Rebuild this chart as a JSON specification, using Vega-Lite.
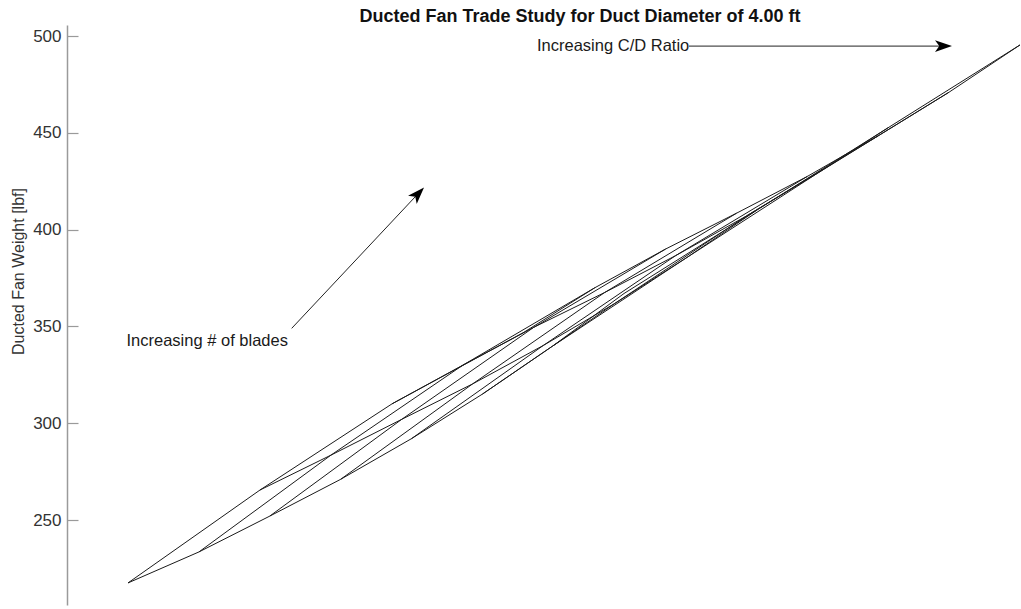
{
  "$schema": "https://vega.github.io/schema/vega-lite/v6.json",
  "width": 954,
  "height": 580,
  "autosize": {"type": "none"},
  "padding": {"left": 67, "top": 25, "right": 0, "bottom": 4},
  "background": "white",
  "config": {"view": {"stroke": null}, "font": "Liberation Sans"},
  "title": {
    "text": "Ducted Fan Trade Study for Duct Diameter of 4.00 ft",
    "font": "Liberation Sans",
    "fontSize": 18,
    "fontWeight": "bold",
    "color": "#111111",
    "anchor": "middle",
    "dx": 36,
    "dy": 3,
    "offset": 2
  },
  "datasets": {
    "carpet": [
      {"blades": 2, "cd_step": 0, "cheater": 128, "weight": 217.5},
      {"blades": 2, "cd_step": 1, "cheater": 198.9, "weight": 233.5},
      {"blades": 2, "cd_step": 2, "cheater": 269.7, "weight": 252},
      {"blades": 2, "cd_step": 3, "cheater": 340.6, "weight": 271},
      {"blades": 2, "cd_step": 4, "cheater": 411.4, "weight": 292},
      {"blades": 2, "cd_step": 5, "cheater": 482.3, "weight": 315},
      {"blades": 2, "cd_step": 6, "cheater": 553.1, "weight": 340},
      {"blades": 2, "cd_step": 7, "cheater": 624, "weight": 367},
      {"blades": 3, "cd_step": 0, "cheater": 260, "weight": 265.5},
      {"blades": 3, "cd_step": 1, "cheater": 330.9, "weight": 283.5},
      {"blades": 3, "cd_step": 2, "cheater": 401.7, "weight": 302},
      {"blades": 3, "cd_step": 3, "cheater": 472.6, "weight": 320.3},
      {"blades": 3, "cd_step": 4, "cheater": 543.4, "weight": 340.2},
      {"blades": 3, "cd_step": 5, "cheater": 614.3, "weight": 361.7},
      {"blades": 3, "cd_step": 6, "cheater": 685.1, "weight": 385},
      {"blades": 3, "cd_step": 7, "cheater": 756, "weight": 409.8},
      {"blades": 4, "cd_step": 0, "cheater": 392, "weight": 310},
      {"blades": 4, "cd_step": 1, "cheater": 462.9, "weight": 330},
      {"blades": 4, "cd_step": 2, "cheater": 533.7, "weight": 349.5},
      {"blades": 4, "cd_step": 3, "cheater": 604.6, "weight": 367.5},
      {"blades": 4, "cd_step": 4, "cheater": 675.4, "weight": 386.5},
      {"blades": 4, "cd_step": 5, "cheater": 746.3, "weight": 407},
      {"blades": 4, "cd_step": 6, "cheater": 817.1, "weight": 429},
      {"blades": 4, "cd_step": 7, "cheater": 888, "weight": 452.6},
      {"blades": 5, "cd_step": 0, "cheater": 524, "weight": 347},
      {"blades": 5, "cd_step": 1, "cheater": 594.9, "weight": 370},
      {"blades": 5, "cd_step": 2, "cheater": 665.7, "weight": 390},
      {"blades": 5, "cd_step": 3, "cheater": 736.6, "weight": 408.5},
      {"blades": 5, "cd_step": 4, "cheater": 807.4, "weight": 427.5},
      {"blades": 5, "cd_step": 5, "cheater": 878.3, "weight": 448.5},
      {"blades": 5, "cd_step": 6, "cheater": 949.1, "weight": 471},
      {"blades": 5, "cd_step": 7, "cheater": 1020, "weight": 495.4}
    ],
    "arrows": [
      {"name": "blades", "x0": 291.7, "y0": 349.0, "x1": 418.2, "y1": 418.6},
      {"name": "cd", "x0": 689, "y0": 494.8, "x1": 943.5, "y1": 494.8}
    ],
    "notes": [
      {"label": "Increasing # of blades", "x": 126.5, "y": 342.5},
      {"label": "Increasing C/D Ratio", "x": 537, "y": 494.8}
    ]
  },
  "resolve": {"axis": {"y": "independent"}},
  "layer": [
    {
      "data": {"name": "carpet"},
      "mark": {"type": "line", "stroke": "#1a1a1a", "strokeWidth": 1},
      "encoding": {
        "x": {"field": "cheater", "type": "quantitative", "scale": {"domain": [67, 1021], "nice": false, "zero": false}, "axis": null},
        "y": {
          "field": "weight",
          "type": "quantitative",
          "scale": {"domain": [206.1, 505.7], "nice": false, "zero": false},
          "axis": {
            "title": "Ducted Fan Weight [lbf]",
            "values": [250, 300, 350, 400, 450, 500],
            "grid": false,
            "ticks": false,
            "domainColor": "#9a9a9a",
            "domainWidth": 1.5,
            "labelPadding": 6,
            "labelFont": "Liberation Sans",
            "labelFontSize": 17,
            "labelColor": "#333333",
            "titleFont": "Liberation Sans",
            "titleFontSize": 16,
            "titleFontWeight": "normal",
            "titleColor": "#333333",
            "titleAngle": -90,
            "titleAlign": "center",
            "titleBaseline": "middle",
            "titleX": -49,
            "titleY": 246
          }
        },
        "detail": {"field": "blades"},
        "order": {"field": "cd_step"}
      }
    },
    {
      "data": {"name": "carpet"},
      "mark": {"type": "line", "stroke": "#1a1a1a", "strokeWidth": 1},
      "encoding": {
        "x": {"field": "cheater", "type": "quantitative", "axis": null},
        "y": {
          "field": "weight",
          "type": "quantitative",
          "axis": {
            "orient": "right",
            "offset": -954,
            "values": [250, 300, 350, 400, 450, 500],
            "title": null,
            "labels": false,
            "domain": false,
            "grid": false,
            "ticks": true,
            "tickSize": 11,
            "tickColor": "#9a9a9a",
            "tickWidth": 1.2
          }
        },
        "detail": {"field": "cd_step"},
        "order": {"field": "blades"}
      }
    },
    {
      "data": {"name": "arrows"},
      "mark": {"type": "rule", "stroke": "#222222", "strokeWidth": 1},
      "encoding": {
        "x": {"field": "x0", "type": "quantitative", "axis": null},
        "y": {"field": "y0", "type": "quantitative", "axis": null},
        "x2": {"field": "x1"},
        "y2": {"field": "y1"}
      }
    },
    {
      "data": {"name": "arrows"},
      "transform": [{"filter": "datum.name === 'cd'"}],
      "mark": {"type": "point", "shape": "M 1 0 L -1 -0.7 L -0.5 0 L -1 0.7 Z", "filled": true, "fill": "#000000", "strokeWidth": 0, "size": 289, "angle": 0, "opacity": 1},
      "encoding": {
        "x": {"field": "x1", "type": "quantitative", "axis": null},
        "y": {"field": "y1", "type": "quantitative", "axis": null}
      }
    },
    {
      "data": {"name": "arrows"},
      "transform": [{"filter": "datum.name === 'blades'"}],
      "mark": {"type": "point", "shape": "M 1 0 L -1 -0.7 L -0.5 0 L -1 0.7 Z", "filled": true, "fill": "#000000", "strokeWidth": 0, "size": 289, "angle": -46.8, "opacity": 1},
      "encoding": {
        "x": {"field": "x1", "type": "quantitative", "axis": null},
        "y": {"field": "y1", "type": "quantitative", "axis": null}
      }
    },
    {
      "data": {"name": "notes"},
      "mark": {"type": "text", "align": "left", "baseline": "middle", "font": "Liberation Sans", "fontSize": 16.5, "fill": "#1a1a1a"},
      "encoding": {
        "x": {"field": "x", "type": "quantitative", "axis": null},
        "y": {"field": "y", "type": "quantitative", "axis": null},
        "text": {"field": "label"}
      }
    }
  ]
}
